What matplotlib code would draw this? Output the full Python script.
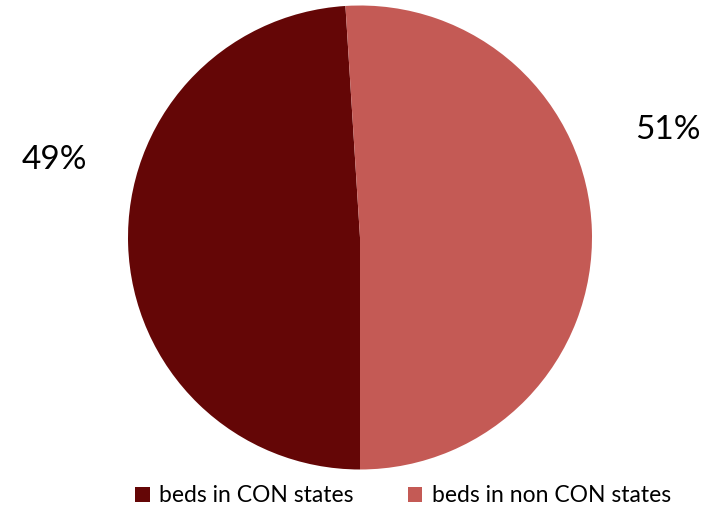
import matplotlib.pyplot as plt

plt.rcParams['font.family'] = ['Lato', 'DejaVu Sans']

categories = ['beds in CON states', 'beds in non CON states']
shares = [49, 51]
colours = ['#640606', '#C45A55']

fig = plt.figure(figsize=(7.18, 5.11), dpi=100)

# pie centre and radius in pixels
cx, cy, r = 360, 511 - 237.5, 232
ax = fig.add_axes([(cx - r) / 718, (cy - r) / 511, 2 * r / 718, 2 * r / 511])

wedges, _ = ax.pie(shares, colors=colours, startangle=270, counterclock=False,
                   radius=1, wedgeprops={'linewidth': 0})
ax.set_xlim(-1, 1)
ax.set_ylim(-1, 1)
ax.axis('off')

label_pos = [(-1.315, 0.334), (1.328, 0.463)]
for (x, y), v in zip(label_pos, shares):
    ax.text(x, y, f'{v}%', ha='center', va='center', fontsize=24,
            color='black', clip_on=False)

fig.legend(wedges, categories, loc='center', bbox_to_anchor=(403 / 718, 1 - 496 / 511),
           ncol=2, frameon=False, fontsize=16.5, handlelength=0.62, handleheight=0.62,
           handletextpad=0.4, columnspacing=2.4, borderaxespad=0)

fig.savefig('out.png', dpi=100)
